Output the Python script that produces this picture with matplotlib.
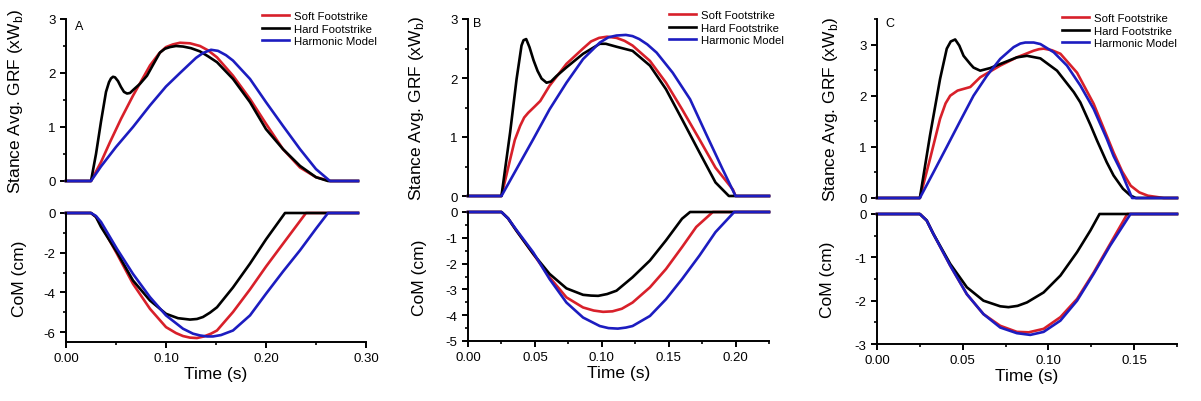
import numpy as np
import matplotlib
matplotlib.use("Agg")
import matplotlib.pyplot as plt
from matplotlib.ticker import MultipleLocator, FormatStrFormatter

plt.rcParams.update({
    "font.family": "sans-serif",
    "font.sans-serif": ["Liberation Sans", "DejaVu Sans"],
    "font.size": 9,
    "axes.unicode_minus": False,
    "axes.linewidth": 1.4,
    "xtick.major.width": 1.4,
    "ytick.major.width": 1.4,
    "xtick.minor.width": 1.2,
    "ytick.minor.width": 1.2,
    "xtick.major.size": 4,
    "ytick.major.size": 4,
    "xtick.minor.size": 2.5,
    "ytick.minor.size": 2.5,
    "xtick.labelsize": 9.5,
    "ytick.labelsize": 9.5,
})

RED = "#d8202a"
BLACK = "#000000"
BLUE = "#1c1cc0"
LW = 1.9

# ---------------- panel A ----------------
a_grf_soft_t = [0, 0.025, 0.035, 0.044, 0.055, 0.067, 0.084, 0.093, 0.100, 0.107, 0.114, 0.124, 0.134, 0.142, 0.151, 0.167, 0.184, 0.200, 0.217, 0.234, 0.250, 0.264, 0.292]
a_grf_soft = [0, 0, 0.35, 0.72, 1.15, 1.58, 2.14, 2.36, 2.48, 2.53, 2.56, 2.55, 2.50, 2.42, 2.29, 1.95, 1.52, 1.06, 0.59, 0.25, 0.07, 0, 0]
a_grf_hard_t = [0, 0.025, 0.030, 0.035, 0.040, 0.043, 0.045, 0.047, 0.049, 0.052, 0.055, 0.058, 0.061, 0.064, 0.068, 0.074, 0.081, 0.087, 0.094, 0.099, 0.104, 0.110, 0.117, 0.125, 0.134, 0.142, 0.151, 0.167, 0.184, 0.200, 0.217, 0.234, 0.250, 0.262, 0.292]
a_grf_hard = [0, 0, 0.50, 1.10, 1.65, 1.83, 1.90, 1.93, 1.92, 1.85, 1.74, 1.65, 1.62, 1.63, 1.70, 1.80, 1.95, 2.15, 2.38, 2.45, 2.48, 2.50, 2.49, 2.46, 2.40, 2.31, 2.20, 1.89, 1.46, 0.96, 0.59, 0.28, 0.07, 0, 0]
a_grf_harm_t = [0, 0.025, 0.035, 0.050, 0.067, 0.084, 0.100, 0.114, 0.130, 0.137, 0.145, 0.152, 0.160, 0.167, 0.184, 0.200, 0.217, 0.234, 0.250, 0.264, 0.292]
a_grf_harm = [0, 0, 0.27, 0.63, 1.00, 1.40, 1.75, 2.00, 2.28, 2.37, 2.43, 2.41, 2.33, 2.23, 1.89, 1.46, 1.02, 0.59, 0.22, 0, 0]

a_com_soft_t = [0, 0.025, 0.030, 0.035, 0.051, 0.067, 0.084, 0.100, 0.110, 0.117, 0.124, 0.131, 0.138, 0.145, 0.151, 0.167, 0.184, 0.200, 0.217, 0.240, 0.292]
a_com_soft = [0, 0, -0.2, -0.6, -2.06, -3.57, -4.83, -5.75, -6.05, -6.20, -6.28, -6.30, -6.22, -6.08, -5.92, -4.99, -3.85, -2.70, -1.55, 0, 0]
a_com_hard_t = [0, 0.025, 0.030, 0.035, 0.051, 0.067, 0.084, 0.100, 0.112, 0.124, 0.131, 0.137, 0.144, 0.151, 0.167, 0.184, 0.200, 0.219, 0.292]
a_com_hard = [0, 0, -0.2, -0.7, -1.98, -3.40, -4.41, -5.08, -5.30, -5.37, -5.34, -5.24, -5.02, -4.75, -3.75, -2.55, -1.33, 0, 0]
a_com_harm_t = [0, 0.025, 0.030, 0.035, 0.051, 0.067, 0.084, 0.100, 0.117, 0.127, 0.134, 0.141, 0.147, 0.155, 0.167, 0.184, 0.200, 0.217, 0.234, 0.250, 0.262, 0.292]
a_com_harm = [0, 0, -0.15, -0.45, -1.81, -3.07, -4.24, -5.16, -5.83, -6.08, -6.17, -6.22, -6.22, -6.15, -5.92, -5.16, -4.07, -2.95, -1.88, -0.79, 0, 0]

# ---------------- panel B ----------------
b_grf_soft_t = [0, 0.025, 0.0315, 0.035, 0.039, 0.042, 0.045, 0.050, 0.054, 0.061, 0.0736, 0.086, 0.092, 0.098, 0.104, 0.111, 0.117, 0.123, 0.136, 0.148, 0.160, 0.173, 0.185, 0.198, 0.200, 0.225]
b_grf_soft = [0, 0, 0.62, 0.95, 1.19, 1.33, 1.41, 1.52, 1.61, 1.87, 2.24, 2.50, 2.62, 2.68, 2.70, 2.68, 2.63, 2.55, 2.29, 1.92, 1.47, 0.96, 0.48, 0.11, 0, 0]
b_grf_hard_t = [0, 0.025, 0.0315, 0.0363, 0.040, 0.0415, 0.0435, 0.046, 0.049, 0.052, 0.055, 0.0587, 0.062, 0.066, 0.0736, 0.086, 0.0985, 0.103, 0.111, 0.123, 0.136, 0.148, 0.160, 0.173, 0.185, 0.195, 0.225]
b_grf_hard = [0, 0, 1.08, 1.98, 2.55, 2.64, 2.66, 2.52, 2.30, 2.12, 1.99, 1.92, 1.94, 2.03, 2.18, 2.41, 2.58, 2.58, 2.53, 2.46, 2.21, 1.81, 1.30, 0.74, 0.23, 0, 0]
b_grf_harm_t = [0, 0.025, 0.0487, 0.061, 0.0736, 0.086, 0.0985, 0.105, 0.111, 0.118, 0.123, 0.128, 0.134, 0.141, 0.153, 0.166, 0.178, 0.190, 0.200, 0.225]
b_grf_harm = [0, 0, 0.96, 1.47, 1.92, 2.32, 2.60, 2.69, 2.72, 2.73, 2.71, 2.66, 2.57, 2.43, 2.09, 1.64, 1.05, 0.47, 0, 0]

b_com_soft_t = [0, 0.025, 0.030, 0.036, 0.0487, 0.061, 0.0736, 0.086, 0.094, 0.101, 0.108, 0.115, 0.123, 0.136, 0.148, 0.160, 0.1706, 0.183, 0.225]
b_com_soft = [0, 0, -0.25, -0.71, -1.62, -2.53, -3.31, -3.70, -3.82, -3.87, -3.85, -3.75, -3.51, -2.92, -2.21, -1.36, -0.58, 0, 0]
b_com_hard_t = [0, 0.025, 0.030, 0.036, 0.0487, 0.061, 0.0736, 0.086, 0.092, 0.0973, 0.104, 0.111, 0.123, 0.136, 0.148, 0.160, 0.166, 0.225]
b_com_hard = [0, 0, -0.25, -0.71, -1.62, -2.40, -2.96, -3.21, -3.24, -3.25, -3.18, -3.05, -2.53, -1.88, -1.10, -0.26, 0, 0]
b_com_harm_t = [0, 0.025, 0.030, 0.036, 0.0487, 0.061, 0.0736, 0.086, 0.0985, 0.105, 0.112, 0.118, 0.123, 0.136, 0.148, 0.160, 0.173, 0.185, 0.199, 0.225]
b_com_harm = [0, 0, -0.25, -0.68, -1.56, -2.60, -3.51, -4.09, -4.42, -4.50, -4.52, -4.48, -4.42, -4.03, -3.38, -2.60, -1.69, -0.78, 0, 0]

# ---------------- panel C ----------------
c_grf_soft_t = [0, 0.025, 0.0309, 0.0368, 0.040, 0.0427, 0.047, 0.0544, 0.0602, 0.0719, 0.0816, 0.0914, 0.0945, 0.0972, 0.102, 0.107, 0.1167, 0.1264, 0.138, 0.143, 0.148, 0.153, 0.158, 0.1673, 0.175]
c_grf_soft = [0, 0, 0.76, 1.55, 1.85, 2.00, 2.10, 2.17, 2.36, 2.59, 2.75, 2.88, 2.91, 2.92, 2.89, 2.82, 2.45, 1.84, 0.89, 0.52, 0.24, 0.11, 0.045, 0, 0]
c_grf_hard_t = [0, 0.025, 0.0309, 0.0368, 0.0407, 0.043, 0.0456, 0.048, 0.0505, 0.0544, 0.0563, 0.0602, 0.066, 0.0719, 0.0816, 0.0875, 0.0953, 0.105, 0.1148, 0.1186, 0.1245, 0.1284, 0.134, 0.138, 0.1435, 0.1478, 0.151, 0.175]
c_grf_hard = [0, 0, 1.22, 2.33, 2.92, 3.06, 3.10, 2.98, 2.78, 2.62, 2.55, 2.49, 2.54, 2.62, 2.75, 2.78, 2.73, 2.49, 2.07, 1.87, 1.43, 1.12, 0.70, 0.44, 0.18, 0.05, 0, 0]
c_grf_harm_t = [0, 0.025, 0.0329, 0.0407, 0.0486, 0.0563, 0.0641, 0.0719, 0.0797, 0.0836, 0.0865, 0.0914, 0.0953, 0.1031, 0.1108, 0.1186, 0.1264, 0.134, 0.138, 0.142, 0.1488, 0.175]
c_grf_harm = [0, 0, 0.50, 1.0, 1.51, 2.0, 2.39, 2.72, 2.95, 3.02, 3.04, 3.04, 3.01, 2.85, 2.59, 2.20, 1.74, 1.16, 0.82, 0.55, 0, 0]

c_com_soft_t = [0, 0.025, 0.029, 0.0329, 0.0427, 0.0524, 0.0621, 0.0719, 0.0816, 0.0885, 0.0972, 0.107, 0.1167, 0.1264, 0.136, 0.146, 0.175]
c_com_soft = [0, 0, -0.15, -0.46, -1.19, -1.85, -2.31, -2.58, -2.72, -2.73, -2.65, -2.38, -1.96, -1.35, -0.69, 0, 0]
c_com_hard_t = [0, 0.025, 0.029, 0.0329, 0.0427, 0.0524, 0.0621, 0.0719, 0.0767, 0.082, 0.0875, 0.0972, 0.107, 0.1167, 0.1245, 0.1298, 0.175]
c_com_hard = [0, 0, -0.15, -0.46, -1.15, -1.69, -2.00, -2.13, -2.15, -2.12, -2.04, -1.81, -1.42, -0.88, -0.38, 0, 0]
c_com_harm_t = [0, 0.025, 0.029, 0.0329, 0.0427, 0.0524, 0.0621, 0.0719, 0.0816, 0.0894, 0.0972, 0.107, 0.1167, 0.1264, 0.136, 0.1479, 0.175]
c_com_harm = [0, 0, -0.15, -0.46, -1.19, -1.85, -2.31, -2.62, -2.75, -2.79, -2.72, -2.46, -2.00, -1.38, -0.73, 0, 0]

LABELS = ["Soft Footstrike", "Hard Footstrike", "Harmonic Model"]

W, H = 1201, 402
fig = plt.figure(figsize=(W / 100, H / 100), dpi=100)


def rect(x0, x1, ytop, ybot):
    return [x0 / W, 1 - ybot / H, (x1 - x0) / W, (ybot - ytop) / H]


panels = [
    dict(letter="A", x=(66, 366), top=(20, 182), bot=(214, 343), xlim=0.30, xmaj=0.10, xmin=0.05,
         tylim=3.0, bylim=-6.5, bmaj=2, bmin=1,
         grf=[(a_grf_soft_t, a_grf_soft), (a_grf_hard_t, a_grf_hard), (a_grf_harm_t, a_grf_harm)],
         com=[(a_com_soft_t, a_com_soft), (a_com_hard_t, a_com_hard), (a_com_harm_t, a_com_harm)],
         leg=(262, 12), ylx=(-0.137, -0.13), lp=(0.03, 0.957)),
    dict(letter="B", x=(468, 769), top=(20, 197), bot=(213, 342), xlim=0.225, xmaj=0.05, xmin=0.025,
         tylim=3.0, bylim=-5.0, bmaj=1, bmin=0.5,
         grf=[(b_grf_soft_t, b_grf_soft), (b_grf_hard_t, b_grf_hard), (b_grf_harm_t, b_grf_harm)],
         com=[(b_com_soft_t, b_com_soft), (b_com_hard_t, b_com_hard), (b_com_harm_t, b_com_harm)],
         leg=(669, 11), ylx=(-0.14, -0.136), lp=(0.017, 0.977)),
    dict(letter="C", x=(877, 1177), top=(20, 199), bot=(215, 345), xlim=0.175, xmaj=0.05, xmin=0.025,
         tylim=3.5, bylim=-3.0, bmaj=1, bmin=0.5,
         grf=[(c_grf_soft_t, c_grf_soft), (c_grf_hard_t, c_grf_hard), (c_grf_harm_t, c_grf_harm)],
         com=[(c_com_soft_t, c_com_soft), (c_com_hard_t, c_com_hard), (c_com_harm_t, c_com_harm)],
         leg=(1062, 14), ylx=(-0.123, -0.14), lp=(0.027, 0.978)),
]

colors = [RED, BLACK, BLUE]

for p in panels:
    x0, x1 = p["x"]
    axt = fig.add_axes(rect(x0, x1, *p["top"]))
    axb = fig.add_axes(rect(x0, x1, *p["bot"]))

    handles = []
    for (t, v), c, lab in zip(p["grf"], colors, LABELS):
        h, = axt.plot(t, v, color=c, lw=LW, label=lab, clip_on=False, solid_joinstyle="round")
        handles.append(h)
    for (t, v), c in zip(p["com"], colors):
        axb.plot(t, v, color=c, lw=LW, clip_on=False, solid_joinstyle="round")

    # top panel: only the left spine
    axt.set_xlim(0, p["xlim"])
    axt.set_ylim(0, p["tylim"])
    for s in ["top", "right", "bottom"]:
        axt.spines[s].set_visible(False)
    axt.set_xticks([])
    axt.yaxis.set_major_locator(MultipleLocator(1))
    axt.yaxis.set_minor_locator(MultipleLocator(0.5))
    axt.set_ylabel(r"Stance Avg. GRF (xW$_\mathregular{b}$)", fontsize=12.5)
    axt.yaxis.set_label_coords(p["ylx"][0], 0.5)
    axt.text(p["lp"][0], p["lp"][1], p["letter"], transform=axt.transAxes,
             ha="left", va="center", fontsize=9)

    # bottom panel
    axb.set_xlim(0, p["xlim"])
    axb.set_ylim(p["bylim"], 0)
    for s in ["top", "right"]:
        axb.spines[s].set_visible(False)
    axb.xaxis.set_major_locator(MultipleLocator(p["xmaj"]))
    axb.xaxis.set_minor_locator(MultipleLocator(p["xmin"]))
    axb.xaxis.set_major_formatter(FormatStrFormatter("%.2f"))
    axb.yaxis.set_major_locator(MultipleLocator(p["bmaj"]))
    axb.yaxis.set_minor_locator(MultipleLocator(p["bmin"]))
    axb.set_xlabel("Time (s)", fontsize=12.5, labelpad=1)
    axb.set_ylabel("CoM (cm)", fontsize=12.5)
    axb.yaxis.set_label_coords(p["ylx"][1], 0.5)

    lx, ly = p["leg"]
    fig.legend(handles=handles, loc="upper left", bbox_to_anchor=(lx / W, 1 - ly / H),
               frameon=False, fontsize=8.2, borderpad=0, borderaxespad=0,
               handlelength=2.4, handletextpad=0.4, labelspacing=0.22)

fig.savefig("out.png", dpi=100)
